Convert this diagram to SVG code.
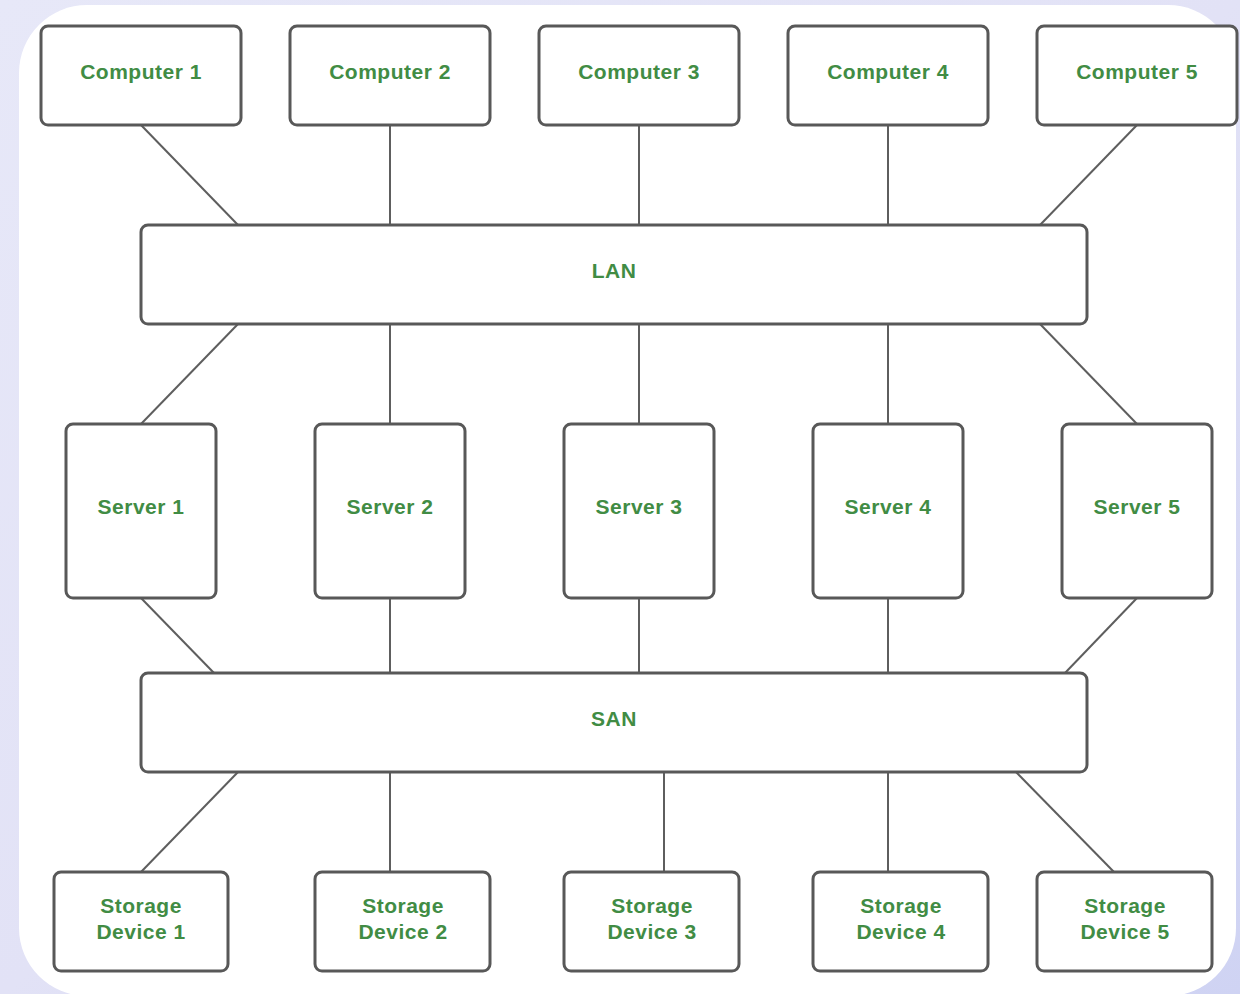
<svg xmlns="http://www.w3.org/2000/svg" width="1240" height="994" viewBox="0 0 1240 994">
  <defs>
    <linearGradient id="bg" x1="0" y1="0" x2="1" y2="1">
      <stop offset="0" stop-color="#e7e8f8"/>
      <stop offset="0.5" stop-color="#e2e2f6"/>
      <stop offset="1" stop-color="#cfd3f3"/>
    </linearGradient>
    <style>
      .box { fill: #ffffff; stroke: #585858; stroke-width: 3; }
      .label { font-family: "Liberation Sans", Arial, sans-serif; font-size: 21px; font-weight: bold; fill: #418c44; text-anchor: middle; letter-spacing: 0.5px; }
      .link { stroke: #5e5e5e; stroke-width: 2; fill: none; }
    </style>
  </defs>

  <!-- backdrop and white panel -->
  <rect x="0" y="0" width="1240" height="994" fill="url(#bg)"/>
  <rect x="19" y="5" width="1217" height="991" rx="68" ry="68" fill="#ffffff"/>

  <!-- connectors -->
  <g id="connectors" class="link">
    <line x1="141" y1="125" x2="238" y2="225"/>
    <line x1="390" y1="125" x2="390" y2="225"/>
    <line x1="639" y1="125" x2="639" y2="225"/>
    <line x1="888" y1="125" x2="888" y2="225"/>
    <line x1="1137" y1="125" x2="1040" y2="225"/>

    <line x1="238" y1="324" x2="141" y2="424"/>
    <line x1="390" y1="324" x2="390" y2="424"/>
    <line x1="639" y1="324" x2="639" y2="424"/>
    <line x1="888" y1="324" x2="888" y2="424"/>
    <line x1="1040" y1="324" x2="1137" y2="424"/>

    <line x1="141" y1="598" x2="214" y2="673"/>
    <line x1="390" y1="598" x2="390" y2="673"/>
    <line x1="639" y1="598" x2="639" y2="673"/>
    <line x1="888" y1="598" x2="888" y2="673"/>
    <line x1="1137" y1="598" x2="1065" y2="673"/>

    <line x1="238" y1="772" x2="141" y2="872"/>
    <line x1="390" y1="772" x2="390" y2="872"/>
    <line x1="664" y1="772" x2="664" y2="872"/>
    <line x1="888" y1="772" x2="888" y2="872"/>
    <line x1="1016" y1="772" x2="1114" y2="872"/>
  </g>

  <!-- computers -->
  <g id="computer-1"><rect class="box" x="41" y="26" width="200" height="99" rx="7"/><text class="label" x="141" y="79">Computer 1</text></g>
  <g id="computer-2"><rect class="box" x="290" y="26" width="200" height="99" rx="7"/><text class="label" x="390" y="79">Computer 2</text></g>
  <g id="computer-3"><rect class="box" x="539" y="26" width="200" height="99" rx="7"/><text class="label" x="639" y="79">Computer 3</text></g>
  <g id="computer-4"><rect class="box" x="788" y="26" width="200" height="99" rx="7"/><text class="label" x="888" y="79">Computer 4</text></g>
  <g id="computer-5"><rect class="box" x="1037" y="26" width="200" height="99" rx="7"/><text class="label" x="1137" y="79">Computer 5</text></g>

  <!-- LAN -->
  <g id="lan"><rect class="box" x="141" y="225" width="946" height="99" rx="7"/><text class="label" x="614" y="278">LAN</text></g>

  <!-- servers -->
  <g id="server-1"><rect class="box" x="66" y="424" width="150" height="174" rx="7"/><text class="label" x="141" y="514">Server 1</text></g>
  <g id="server-2"><rect class="box" x="315" y="424" width="150" height="174" rx="7"/><text class="label" x="390" y="514">Server 2</text></g>
  <g id="server-3"><rect class="box" x="564" y="424" width="150" height="174" rx="7"/><text class="label" x="639" y="514">Server 3</text></g>
  <g id="server-4"><rect class="box" x="813" y="424" width="150" height="174" rx="7"/><text class="label" x="888" y="514">Server 4</text></g>
  <g id="server-5"><rect class="box" x="1062" y="424" width="150" height="174" rx="7"/><text class="label" x="1137" y="514">Server 5</text></g>

  <!-- SAN -->
  <g id="san"><rect class="box" x="141" y="673" width="946" height="99" rx="7"/><text class="label" x="614" y="726">SAN</text></g>

  <!-- storage devices -->
  <g id="storage-1"><rect class="box" x="54" y="872" width="174" height="99" rx="7"/><text class="label" x="141" y="913">Storage</text><text class="label" x="141" y="939">Device 1</text></g>
  <g id="storage-2"><rect class="box" x="315" y="872" width="175" height="99" rx="7"/><text class="label" x="403" y="913">Storage</text><text class="label" x="403" y="939">Device 2</text></g>
  <g id="storage-3"><rect class="box" x="564" y="872" width="175" height="99" rx="7"/><text class="label" x="652" y="913">Storage</text><text class="label" x="652" y="939">Device 3</text></g>
  <g id="storage-4"><rect class="box" x="813" y="872" width="175" height="99" rx="7"/><text class="label" x="901" y="913">Storage</text><text class="label" x="901" y="939">Device 4</text></g>
  <g id="storage-5"><rect class="box" x="1037" y="872" width="175" height="99" rx="7"/><text class="label" x="1125" y="913">Storage</text><text class="label" x="1125" y="939">Device 5</text></g>
</svg>
